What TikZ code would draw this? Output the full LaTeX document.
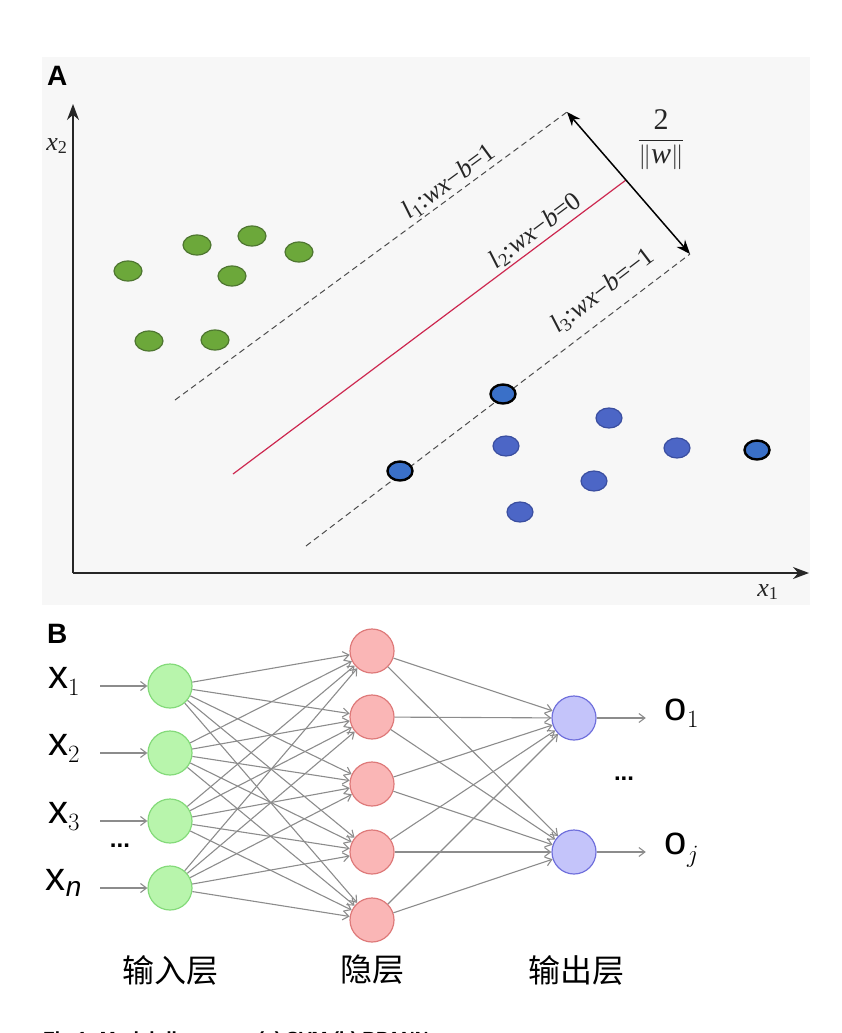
\documentclass[tikz,border=0pt]{standalone}
\usepackage{amsmath}
\usepackage{fontspec}
\setmainfont{Liberation Serif}
\setsansfont{Liberation Sans}
\newfontfamily\cjk{Noto Sans CJK SC}
\usepackage{tikz}
\usetikzlibrary{positioning,calc,arrows.meta}

\definecolor{panelgray}{RGB}{247,247,247}
\definecolor{dotgreen}{RGB}{108,168,58}
\definecolor{dotgreenedge}{RGB}{78,118,48}
\definecolor{dotblue}{RGB}{76,102,198}
\definecolor{dotblueedge}{RGB}{58,78,160}
\definecolor{svblue}{RGB}{58,112,200}
\definecolor{hyperred}{RGB}{205,40,80}
\definecolor{ingreen}{RGB}{184,245,172}
\definecolor{ingreenedge}{RGB}{132,218,122}
\definecolor{hidpink}{RGB}{250,182,182}
\definecolor{hidpinkedge}{RGB}{222,122,122}
\definecolor{outblue}{RGB}{196,196,250}
\definecolor{outblueedge}{RGB}{112,112,220}
\definecolor{linkgray}{RGB}{140,140,140}

\newcommand{\svmvar}[1]{\textit{#1}}

\tikzset{
  axis/.style={line width=1.6pt, black!85, -{Stealth[length=16pt,width=12pt]}},
  margin/.style={line width=1pt, black!70, dash pattern=on 6pt off 4pt},
  hyper/.style={line width=1.2pt, hyperred},
  lbl/.style={font=\fontsize{26}{28}\selectfont, inner sep=2pt, text=black!85},
  neuron/.style={circle, minimum size=44pt, inner sep=0pt, line width=1.2pt},
  innode/.style={neuron, fill=ingreen, draw=ingreenedge},
  hidnode/.style={neuron, fill=hidpink, draw=hidpinkedge},
  outnode/.style={neuron, fill=outblue, draw=outblueedge},
  link/.style={line width=1.1pt, linkgray, -{Straight Barb[length=6pt,width=9pt]}},
  iolbl/.style={font=\fontsize{40}{44}\selectfont, anchor=mid, minimum width=40pt, inner sep=0pt},
  dots/.style={font=\sffamily\bfseries\fontsize{24}{26}\selectfont},
  layerlbl/.style={font=\cjk\fontsize{32}{36}\selectfont},
  panel/.style={font=\sffamily\bfseries\fontsize{28}{30}\selectfont, anchor=north west, inner sep=0pt}
}

\begin{document}
\begin{tikzpicture}[x=1pt,y=-1pt]
    \useasboundingbox (0,0) rectangle (842,1033);

    % Panel A background
    \fill[panelgray] (42,57) rectangle (810,605);
    \node[panel] (labA) at (47,66) {A};

    % Axes
    \coordinate (origin) at (73,573);
    \draw[axis] (origin) -- (73,104);
    \draw[axis] (origin) -- (809,573);
    \node[lbl] (xtwo) at (57,146) {\svmvar{x}\textsubscript{2}};
    \node[lbl] (xone) at (768,592) {\svmvar{x}\textsubscript{1}};

    % Margin lines and hyperplane
    \coordinate (l1a) at (175,400);
    \coordinate (l1b) at (567,112);
    \coordinate (l2a) at (233,474);
    \coordinate (l2b) at (626,180);
    \coordinate (l3a) at (306,546);
    \coordinate (l3b) at (690,254);
    \draw[margin] (l1a) -- node[lbl, sloped, above, pos=0.72] (eqone)
        {\svmvar{l}\textsubscript{1}:\svmvar{wx}−\svmvar{b}=1} (l1b);
    \draw[hyper] (l2a) -- node[lbl, sloped, above, pos=0.79] (eqtwo)
        {\svmvar{l}\textsubscript{2}:\svmvar{wx}−\svmvar{b}=0} (l2b);
    \draw[margin] (l3a) -- node[lbl, sloped, above, pos=0.81, yshift=10pt] (eqthree)
        {\svmvar{l}\textsubscript{3}:\svmvar{wx}−\svmvar{b}=−1} (l3b);

    % Margin width
    \draw[line width=1.5pt, {Stealth[length=14pt,width=11pt]}-{Stealth[length=14pt,width=11pt]}] (l1b) -- (l3b);
    \node[lbl, font=\fontsize{30}{32}\selectfont] (width) at (661,140) {$\dfrac{\text{2}}{\|\text{\svmvar{w}}\|}$};

    % Class +1 points
    \foreach \px/\py in {128/271, 197/245, 252/236, 299/252, 232/276, 149/341, 215/340}
        \filldraw[fill=dotgreen, draw=dotgreenedge, line width=1.2pt] (\px,\py) ellipse (14pt and 10pt);

    % Class -1 points
    \foreach \px/\py in {609/418, 506/446, 677/448, 594/481, 520/512}
        \filldraw[fill=dotblue, draw=dotblueedge, line width=1.2pt] (\px,\py) ellipse (13pt and 10pt);

    % Support vectors
    \foreach \px/\py in {503/394, 400/471, 757/450}
        \filldraw[fill=svblue, draw=black, line width=2.4pt] (\px,\py) ellipse (12.5pt and 9.5pt);

    % Panel B
    \node[panel] (labB) at (47,624) {B};

    % Neurons
    \foreach \n/\y in {1/686, 2/753, 3/821, 4/888}
        \node[innode] (i\n) at (170,\y) {};
    \foreach \n/\y in {1/651, 2/717, 3/784, 4/852, 5/920}
        \node[hidnode] (h\n) at (372,\y) {};
    \node[outnode] (o1) at (574,718) {};
    \node[outnode] (o2) at (574,852) {};

    % Weights
    \foreach \i in {1,...,4}
        \foreach \h in {1,...,5}
            \draw[link] (i\i) -- (h\h);
    \foreach \h in {1,...,5}
        \foreach \o in {1,2}
            \draw[link] (h\h) -- (o\o);

    % Inputs and outputs
    \node[iolbl] (x1) at (64,686) {$\mathsf{x}_1$};
    \node[iolbl] (x2) at (64,753) {$\mathsf{x}_2$};
    \node[iolbl] (x3) at (64,821) {$\mathsf{x}_3$};
    \node[iolbl] (xn) at (64,888) {$\mathsf{x}_{\text{\sffamily\itshape n}}$};
    \foreach \lab/\n in {x1/1, x2/2, x3/3, xn/4}
        \draw[link, shorten <=16pt] (\lab.mid east) -- (i\n);
    \node[iolbl] (y1) at (682,718) {$\mathsf{o}_1$};
    \node[iolbl] (yj) at (682,852) {$\mathsf{o}_j$};
    \draw[link, shorten >=16pt] (o1) -- (y1.mid west);
    \draw[link, shorten >=16pt] (o2) -- (yj.mid west);
    \node[dots] (indots) at (120,846) {...};
    \node[dots] (outdots) at (624,779) {...};

    % Layer names
    \node[layerlbl] (inname) at (170,970) {输入层};
    \node[layerlbl] (hidname) at (372,970) {隐层};
    \node[layerlbl] (outname) at (576,970) {输出层};

    % Caption, cut off by the page edge
    \begin{scope}
        \clip (0,0) rectangle (842,1033);
        \node[font=\sffamily\bfseries\fontsize{19}{21}\selectfont, anchor=base west, inner sep=0pt] (caption)
            at (43,1045) {Fig 1. Model diagrams: (a) SVM (b) BPANN};
    \end{scope}
\end{tikzpicture}
\end{document}
